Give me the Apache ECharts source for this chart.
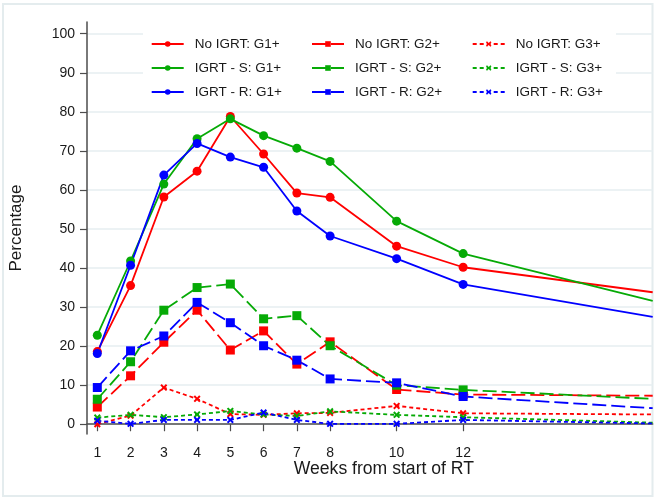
<!DOCTYPE html>
<html>
<head>
<meta charset="utf-8">
<script src="https://cdn.jsdelivr.net/npm/echarts@6/dist/echarts.min.js"></script>
<style>
  html, body { margin: 0; padding: 0; background: #fff; }
  #chart { width: 662px; height: 501px; }
</style>
</head>
<body>
<div id="chart"></div>
<script>
// Weeks from start of RT; the last position is where the curves leave the plot area
const weeks = [1, 2, 3, 4, 5, 6, 7, 8, 10, 12, 17.7];
const weekTicks = [1, 2, 3, 4, 5, 6, 7, 8, 10, 12];
const pctTicks = [0, 10, 20, 30, 40, 50, 60, 70, 80, 90, 100];

// Percentage of patients with toxicity, by group and grade
const noIgrtG1 = [18.6, 35.5, 58.2, 64.8, 78.8, 69.2, 59.2, 58.1, 45.6, 40.2, 33.8];
const noIgrtG2 = [4.4, 12.4, 21.0, 29.2, 19.0, 23.9, 15.4, 21.1, 8.9, 7.6, 7.3];
const noIgrtG3 = [0.0, 2.2, 9.4, 6.5, 2.6, 2.4, 2.8, 2.9, 4.7, 2.8, 2.5];
const igrtSG1 = [22.8, 41.8, 61.5, 73.1, 78.2, 73.9, 70.7, 67.3, 52.0, 43.7, 31.6];
const igrtSG2 = [6.4, 16.0, 29.2, 35.0, 35.9, 27.0, 27.8, 20.1, 10.0, 8.8, 6.5];
const igrtSG3 = [1.7, 2.4, 1.8, 2.5, 3.4, 2.5, 2.1, 3.3, 2.4, 1.8, 0.4];
const igrtRG1 = [18.1, 40.7, 63.8, 71.9, 68.4, 65.8, 54.6, 48.2, 42.4, 35.8, 27.5];
const igrtRG2 = [9.4, 18.8, 22.6, 31.2, 26.0, 20.1, 16.4, 11.6, 10.6, 7.1, 4.1];
const igrtRG3 = [0.9, 0.1, 1.1, 1.1, 1.1, 3.0, 1.1, 0.1, 0.1, 1.1, 0.2];

const RED = '#ff0000', GREEN = '#06aa06', BLUE = '#0000ff';
const FONT = 'Liberation Sans, Arial, sans-serif';
const CROSS = 'path://M2,0L5,3L8,0L10,2L7,5L10,8L8,10L5,7L2,10L0,8L3,5L0,2Z';

const styles = {
  G1: { symbol: 'circle', symbolSize: 9, type: 'solid' },
  G2: { symbol: 'rect', symbolSize: 9, type: [14, 5] },
  G3: { symbol: CROSS, symbolSize: 7, type: [4, 3] }
};

function pairs(values) {
  return values.map((v, i) => {
    const item = { value: [weeks[i], v] };
    if (i === values.length - 1) item.symbol = 'none';
    return item;
  });
}

function makeSeries(name, values, color, grade) {
  const s = styles[grade];
  return {
    name: name,
    type: 'line',
    data: pairs(values),
    symbol: s.symbol,
    symbolSize: s.symbolSize,
    showAllSymbol: true,
    color: color,
    itemStyle: { color: color },
    lineStyle: { color: color, width: 1.8, type: s.type },
    emphasis: { disabled: true },
    animation: false,
    clip: true,
    z: grade === 'G1' ? 4 : (grade === 'G2' ? 3 : 2)
  };
}

const series = [
  makeSeries('No IGRT: G1+', noIgrtG1, RED, 'G1'),
  makeSeries('IGRT - S: G1+', igrtSG1, GREEN, 'G1'),
  makeSeries('IGRT - R: G1+', igrtRG1, BLUE, 'G1'),
  makeSeries('No IGRT: G2+', noIgrtG2, RED, 'G2'),
  makeSeries('IGRT - S: G2+', igrtSG2, GREEN, 'G2'),
  makeSeries('IGRT - R: G2+', igrtRG2, BLUE, 'G2'),
  makeSeries('No IGRT: G3+', noIgrtG3, RED, 'G3'),
  makeSeries('IGRT - S: G3+', igrtSG3, GREEN, 'G3'),
  makeSeries('IGRT - R: G3+', igrtRG3, BLUE, 'G3')
];

function legendColumn(names, left) {
  return {
    data: names,
    orient: 'vertical',
    left: left,
    top: 32,
    itemWidth: 32,
    itemHeight: 7,
    itemGap: 10,
    selectedMode: false,
    textStyle: { fontFamily: FONT, fontSize: 13.5, color: '#1a1a1a', padding: [0, 0, 0, 6] }
  };
}

const axisColor = '#4d4d4d';

const option = {
  backgroundColor: '#ffffff',
  animation: false,
  grid: { left: 86, right: 9.3, top: 22, bottom: 67, containLabel: false },
  legend: [
    legendColumn(['No IGRT: G1+', 'IGRT - S: G1+', 'IGRT - R: G1+'], 145.7),
    legendColumn(['No IGRT: G2+', 'IGRT - S: G2+', 'IGRT - R: G2+'], 306),
    legendColumn(['No IGRT: G3+', 'IGRT - S: G3+', 'IGRT - R: G3+'], 466.7)
  ],
  graphic: [
    {
      type: 'rect', z: -10, silent: true,
      shape: { x: 3, y: 4, width: 649.5, height: 492 },
      style: { fill: 'none', stroke: '#e4ecee', lineWidth: 2 }
    },
    {
      type: 'rect', z: 1, silent: true,
      shape: { x: 143, y: 30, width: 473, height: 76 },
      style: { fill: '#ffffff' }
    }
  ],
  xAxis: {
    type: 'value',
    min: 0.69,
    max: 17.7,
    name: 'Weeks from start of RT',
    nameLocation: 'middle',
    nameGap: 26,
    nameMoveOverlap: false,
    nameTextStyle: { fontFamily: FONT, fontSize: 17.6, color: '#1a1a1a', padding: [0, 0, 0, 28] },
    axisLine: { show: true, lineStyle: { color: axisColor, width: 1.5 } },
    axisTick: { show: true, length: 7, lineStyle: { color: axisColor, width: 1.2 }, customValues: weekTicks },
    axisLabel: { margin: 12, fontFamily: FONT, fontSize: 14, color: '#1a1a1a', customValues: weekTicks },
    splitLine: { show: false }
  },
  yAxis: {
    type: 'value',
    min: -2.5,
    max: 103,
    name: 'Percentage',
    nameLocation: 'middle',
    nameGap: 62,
    nameRotate: 90,
    nameMoveOverlap: false,
    nameTextStyle: { fontFamily: FONT, fontSize: 17, color: '#1a1a1a' },
    axisLine: { show: true, lineStyle: { color: axisColor, width: 1.5 } },
    axisTick: { show: true, length: 7, lineStyle: { color: axisColor, width: 1.2 }, customValues: pctTicks },
    axisLabel: { margin: 12, fontFamily: FONT, fontSize: 14, color: '#1a1a1a', customValues: pctTicks },
    splitLine: { show: true, lineStyle: { color: '#e6eef1', width: 1.5 } }
  },
  series: series
};

const chart = echarts.init(document.getElementById('chart'), null, { renderer: 'canvas' });
chart.setOption(option);
</script>
</body>
</html>
